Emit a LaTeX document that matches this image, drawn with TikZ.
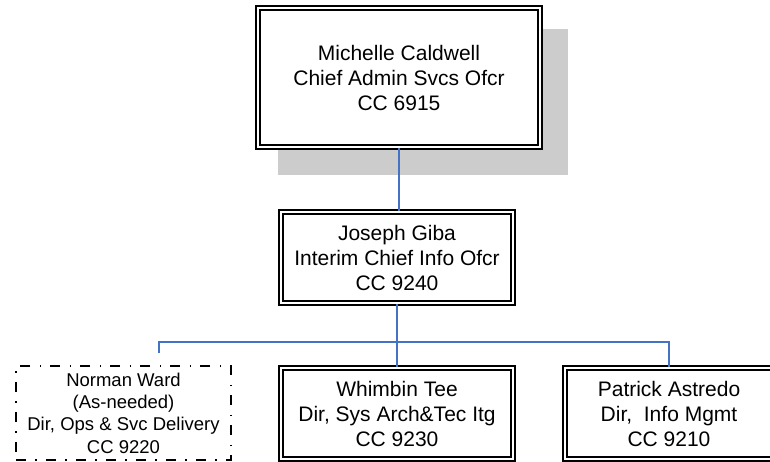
\documentclass[tikz,border=0pt]{standalone}
\usepackage{fontspec}
\setmainfont{Liberation Sans}
\usepackage{tikz}

\definecolor{linkblue}{RGB}{68,114,196}
\definecolor{shadowgray}{RGB}{204,204,204}

\begin{document}
\begin{tikzpicture}[x=1pt, y=-1pt,
				posbox/.style={rectangle, draw=black, fill=white, line width=2.2pt, double, double distance=2pt, inner sep=0pt, align=center, font=\fontsize{21}{25}\selectfont},
				dashbox/.style={rectangle, draw=black, line width=2pt, dash pattern=on 10pt off 9pt on 1.5pt off 9.5pt, inner sep=0pt, align=center, font=\fontsize{18.5}{22.3}\selectfont},
				link/.style={draw=linkblue, line width=1.5pt}
			]

			\clip (0,0) rectangle (770,461);

			\node[fill=shadowgray, minimum width=290pt, minimum height=146pt, inner sep=0pt] (shadow) at (423,102) {};
			\node[posbox, minimum width=281.6pt, minimum height=138.8pt] (caldwell) at (399,77.5) {Michelle Caldwell\\Chief Admin Svcs Ofcr\\CC 6915};
			\node[posbox, minimum width=231.6pt, minimum height=90.6pt] (giba) at (397,257.5) {Joseph Giba\\Interim Chief Info Ofcr\\CC 9240};

			\node[dashbox, minimum width=215pt, minimum height=94pt] (ward) at (123.5,413) {Norman Ward\\(As-needed)\\Dir, Ops \& Svc Delivery\\CC 9220};
			\node[posbox, minimum width=231.6pt, minimum height=90.6pt] (tee) at (397,413.5) {Whimbin Tee\\Dir, Sys Arch\&Tec Itg\\CC 9230};
			\node[posbox, minimum width=207.6pt, minimum height=90.6pt] (astredo) at (669,413.5) {Patrick Astredo\\Dir,~ Info Mgmt\\CC 9210};

			\coordinate (bus) at (397,342);
			\coordinate (wardend) at (159,353);

			\draw[link] (caldwell.south) -- (caldwell.south |- giba.north);
			\draw[link] (giba.south) -- (tee.north);
			\draw[link] (wardend) |- (astredo.north |- bus) -- (astredo.north);

		\end{tikzpicture}
\end{document}
